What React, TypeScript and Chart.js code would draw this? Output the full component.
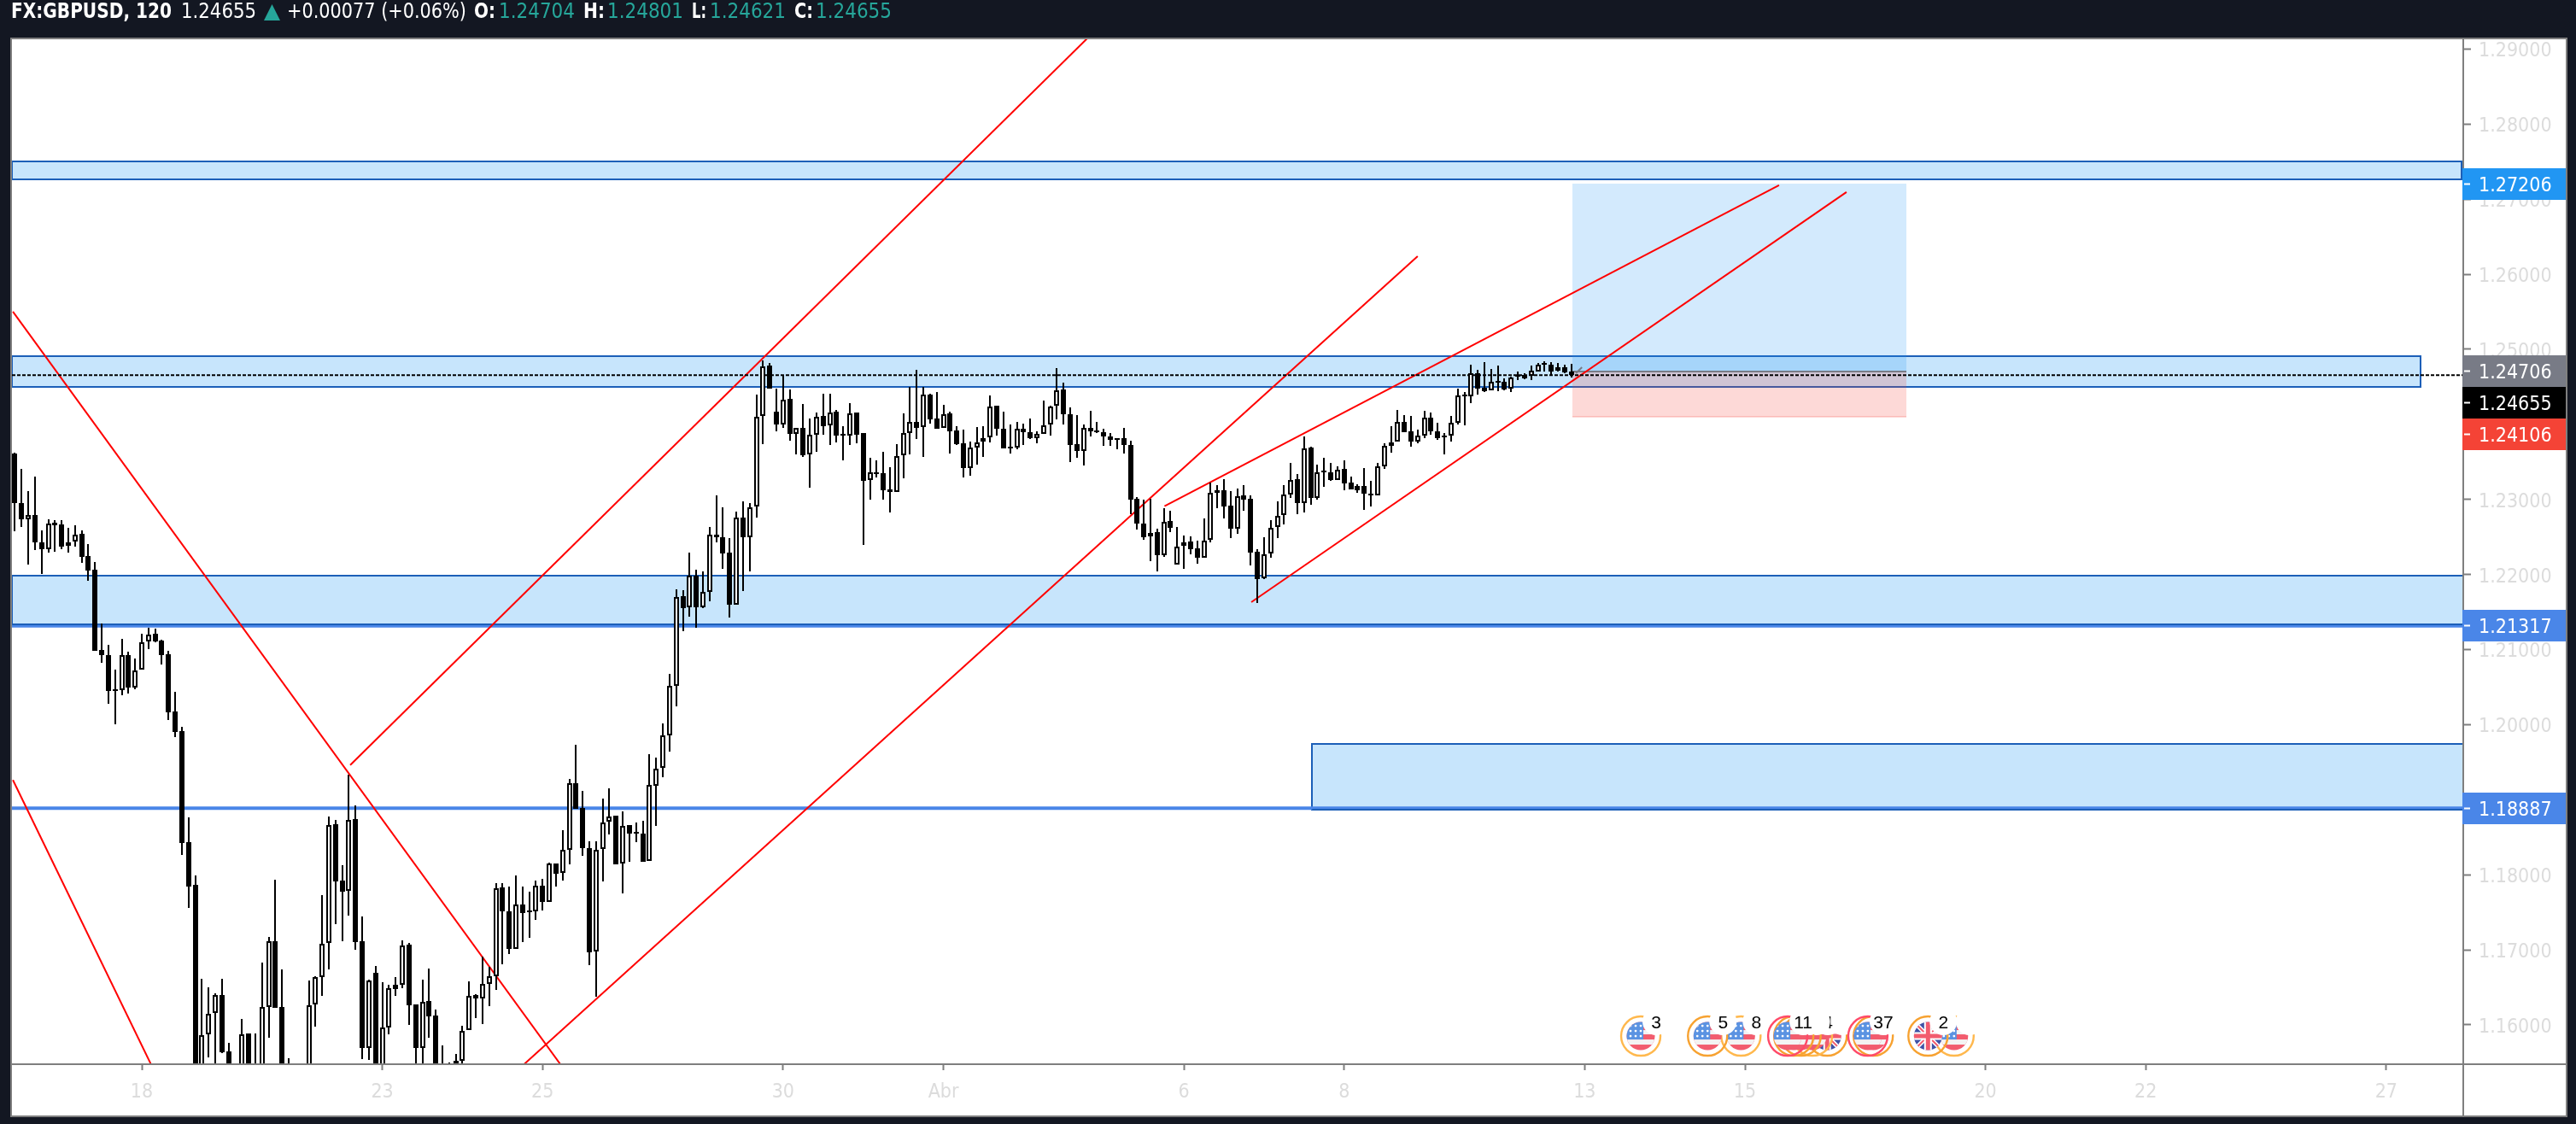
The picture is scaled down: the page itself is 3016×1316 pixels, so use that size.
import React, { useEffect, useRef } from "react";
import { Chart, registerables } from "chart.js";

Chart.register(...registerables);

const firstBar = -19;
const barOpen = [
1.23611,1.22948,1.22733,1.22789,1.22425,1.22341,1.22687,1.22664,1.22383,1.22440,
1.22539,1.22244,1.22062,1.20991,1.20923,1.20457,1.20457,1.20923,1.20498,1.20729,
1.21109,1.21208,1.21116,1.20934,1.20173,1.19914,1.18431,1.17862,1.15316,1.15874,
1.16158,1.16394,1.15643,1.15300,1.15293,1.15885,1.15250,1.15293,1.16233,1.17110,
1.16233,1.15400,1.15300,1.15200,1.15293,1.16271,1.16637,1.17091,1.18670,1.17918,
1.17782,1.18738,1.17110,1.15694,1.16691,1.15293,1.15968,1.16530,1.16530,1.17068,
1.16268,1.15694,1.16314,1.16121,1.15373,1.15430,1.15525,1.15525,1.15928,1.16394,
1.16349,1.16548,1.16645,1.17828,1.17516,1.17015,1.17607,1.17509,1.17509,1.17857,
1.17633,1.18146,1.18021,1.18335,1.19223,1.18890,1.18352,1.16974,1.18340,1.18704,
1.18784,1.18146,1.18659,1.18551,1.18545,1.18180,1.19184,1.19421,1.19854,1.20520,
1.21708,1.21564,1.21988,1.21564,1.21772,1.22535,1.22500,1.22288,1.21601,1.22762,
1.22494,1.22903,1.24109,1.24780,1.24166,1.23995,1.24337,1.23870,1.23950,1.23597,
1.23858,1.24109,1.23984,1.24166,1.23858,1.23847,1.24155,1.23881,1.23255,1.23364,
1.23346,1.23130,1.23099,1.23585,1.23888,1.24036,1.23964,1.24397,1.24075,1.23950,
1.24144,1.23916,1.23745,1.23414,1.23694,1.23768,1.23823,1.24246,1.23938,1.23694,
1.23694,1.23945,1.23893,1.23816,1.23870,1.23998,1.24246,1.24461,1.24131,1.23733,
1.23642,1.23956,1.23910,1.23899,1.23841,1.23808,1.23818,1.23726,1.23005,1.22676,
1.22504,1.22562,1.22262,1.22710,1.22129,1.22379,1.22437,1.22346,1.22227,1.22460,
1.23119,1.23119,1.22914,1.22607,1.23051,1.23005,1.22300,1.21948,1.22277,1.22631,
1.22789,1.23069,1.23266,1.22956,1.23691,1.23023,1.23369,1.23364,1.23262,1.23403,
1.23221,1.23176,1.23176,1.23077,1.23051,1.23437,1.23716,1.23768,1.24036,1.23904,
1.23768,1.23848,1.24093,1.23904,1.23850,1.23850,1.24021,1.24388,1.24370,1.24684,
1.24484,1.24450,1.24571,1.24564,1.24473,1.24644,1.24655,1.24644,1.24707,1.24798,
1.24791,1.24710,1.24764,1.24704,
];
const barClose = [
1.22948,1.22733,1.22789,1.22425,1.22341,1.22682,1.22660,1.22372,1.22432,1.22535,
1.22239,1.22057,1.20987,1.20923,1.20452,1.20449,1.20923,1.20498,1.20725,1.21100,
1.21203,1.21112,1.20930,1.20168,1.19906,1.18426,1.17846,1.15316,1.15866,1.16150,
1.16394,1.15635,1.15293,1.15100,1.15877,1.15259,1.15150,1.16233,1.17110,1.16226,
1.15293,1.15300,1.15200,1.15350,1.16263,1.16637,1.17083,1.18666,1.17914,1.17778,
1.18733,1.17108,1.15694,1.16587,1.15293,1.15968,1.16485,1.16480,1.17060,1.16263,
1.15694,1.16309,1.16113,1.15293,1.15259,1.15320,1.15373,1.15920,1.16390,1.16349,
1.16548,1.16645,1.17823,1.17509,1.17015,1.17607,1.17490,1.17501,1.17857,1.17633,
1.18146,1.18016,1.18335,1.19223,1.18882,1.18352,1.16963,1.18335,1.18699,1.18776,
1.18135,1.18654,1.18551,1.18545,1.18173,1.19193,1.19413,1.19861,1.20515,1.21704,
1.21556,1.21988,1.21567,1.21772,1.22530,1.22500,1.22284,1.21601,1.22762,1.22494,
1.22898,1.24104,1.24775,1.24476,1.23995,1.24332,1.23870,1.23950,1.23585,1.23858,
1.24104,1.23980,1.24161,1.23854,1.23850,1.24150,1.23865,1.23250,1.23364,1.23342,
1.23125,1.23099,1.23581,1.23884,1.24036,1.23956,1.24393,1.24069,1.23945,1.24139,
1.23910,1.23737,1.23414,1.23694,1.23763,1.23816,1.24240,1.23938,1.23676,1.23676,
1.23945,1.23893,1.23818,1.23876,1.23990,1.24240,1.24457,1.24130,1.23728,1.23642,
1.23956,1.23910,1.23899,1.23837,1.23791,1.23797,1.23720,1.23000,1.22676,1.22500,
1.22554,1.22258,1.22705,1.22619,1.22375,1.22429,1.22338,1.22227,1.22455,1.23091,
1.23091,1.22910,1.22607,1.23047,1.23000,1.22296,1.21943,1.22272,1.22626,1.22785,
1.23069,1.23262,1.22956,1.23683,1.23023,1.23364,1.23361,1.23258,1.23395,1.23217,
1.23137,1.23125,1.23081,1.23054,1.23437,1.23712,1.23763,1.24036,1.23899,1.23768,
1.23848,1.24093,1.23904,1.23820,1.23831,1.24026,1.24380,1.24374,1.24684,1.24480,
1.24442,1.24571,1.24559,1.24465,1.24621,1.24636,1.24616,1.24710,1.24791,1.24791,
1.24707,1.24761,1.24695,1.24655,
];
const barHigh = [
1.23623,1.23403,1.23107,1.23301,1.22585,1.22733,1.22725,1.22721,1.22619,1.22653,
1.22585,1.22403,1.22164,1.21348,1.21059,1.20729,1.21139,1.20968,1.20878,1.21208,
1.21290,1.21280,1.21128,1.20980,1.20434,1.19971,1.18761,1.17987,1.16610,1.16496,
1.16417,1.16610,1.15757,1.15400,1.16075,1.15885,1.15885,1.16826,1.17168,1.17930,
1.16735,1.15552,1.15400,1.15450,1.16587,1.16645,1.17725,1.18772,1.18727,1.18124,
1.19330,1.18920,1.17441,1.16598,1.16782,1.16564,1.16530,1.16633,1.17122,1.17087,
1.16268,1.16598,1.16747,1.16207,1.15723,1.15498,1.15609,1.15991,1.16576,1.16405,
1.16914,1.16776,1.17885,1.17885,1.17839,1.17987,1.17839,1.17771,1.17918,1.17942,
1.18158,1.18146,1.18589,1.19280,1.19731,1.19114,1.18442,1.18442,1.19010,1.19148,
1.18791,1.18844,1.18659,1.18693,1.18716,1.19603,1.19557,1.20015,1.20672,1.21802,
1.21791,1.22290,1.22062,1.22038,1.22630,1.23051,1.22892,1.22482,1.22835,1.22971,
1.22948,1.24393,1.24847,1.24814,1.24473,1.24662,1.24462,1.23956,1.24268,1.24075,
1.24155,1.24405,1.24405,1.24189,1.23973,1.24279,1.24155,1.23888,1.23551,1.23517,
1.23631,1.23426,1.23733,1.24147,1.24496,1.24724,1.24496,1.24405,1.24428,1.24257,
1.24166,1.23973,1.23927,1.23768,1.23961,1.23973,1.24380,1.24252,1.24166,1.23995,
1.24030,1.24006,1.24078,1.23910,1.24319,1.24252,1.24748,1.24555,1.24223,1.24123,
1.24002,1.24180,1.24033,1.23938,1.23881,1.23808,1.23950,1.23779,1.23035,1.22994,
1.23005,1.22607,1.22880,1.22846,1.22630,1.22516,1.22505,1.22448,1.22744,1.23224,
1.23190,1.23270,1.23110,1.23140,1.23190,1.23051,1.22334,1.22494,1.22728,1.22971,
1.23190,1.23487,1.23335,1.23835,1.23699,1.23459,1.23560,1.23487,1.23437,1.23517,
1.23305,1.23207,1.23414,1.23249,1.23487,1.23745,1.23973,1.24189,1.24119,1.24115,
1.23933,1.24180,1.24155,1.24017,1.23881,1.24109,1.24476,1.24428,1.24791,1.24724,
1.24829,1.24734,1.24780,1.24609,1.24639,1.24704,1.24678,1.24780,1.24821,1.24843,
1.24832,1.24821,1.24794,1.24801,
];
const barLow = [
1.22580,1.22637,1.22136,1.22330,1.22011,1.22296,1.22307,1.22341,1.22296,1.22375,
1.22156,1.21920,1.20987,1.20828,1.20281,1.20008,1.20395,1.20418,1.20475,1.20729,
1.21004,1.21093,1.20805,1.20065,1.19838,1.18267,1.17560,1.15202,1.15202,1.15567,
1.15316,1.15620,1.15202,1.15000,1.15202,1.15202,1.15100,1.15202,1.15832,1.16226,
1.15202,1.15200,1.15100,1.15100,1.15202,1.15979,1.16390,1.16734,1.17338,1.17118,
1.17460,1.17006,1.15544,1.15536,1.15202,1.15202,1.15877,1.16390,1.16492,1.15999,
1.15293,1.15293,1.15828,1.15202,1.15202,1.15260,1.15293,1.15293,1.15928,1.16094,
1.16009,1.16253,1.16466,1.16810,1.16947,1.17015,1.17108,1.17164,1.17402,1.17527,
1.17633,1.17846,1.17926,1.18142,1.18882,1.18256,1.16791,1.16371,1.17914,1.18540,
1.18135,1.17755,1.18176,1.18434,1.18169,1.18180,1.18654,1.19303,1.19640,1.20247,
1.21249,1.21442,1.21294,1.21556,1.21643,1.22425,1.22080,1.21430,1.21601,1.21783,
1.22045,1.22762,1.23740,1.24476,1.23910,1.23956,1.23786,1.23604,1.23570,1.23160,
1.23634,1.23865,1.23720,1.23763,1.23524,1.23720,1.23752,1.22398,1.23000,1.23296,
1.23000,1.22830,1.23099,1.23285,1.23604,1.23808,1.23570,1.24009,1.23945,1.23950,
1.23615,1.23720,1.23296,1.23319,1.23467,1.23570,1.23763,1.23854,1.23676,1.23615,
1.23671,1.23728,1.23808,1.23752,1.23870,1.23854,1.24069,1.24002,1.23501,1.23554,
1.23456,1.23837,1.23888,1.23712,1.23712,1.23666,1.23615,1.22804,1.22599,1.22466,
1.22182,1.22045,1.22232,1.22562,1.22129,1.22080,1.22272,1.22148,1.22219,1.22432,
1.22884,1.22750,1.22486,1.22546,1.22853,1.22122,1.21624,1.21937,1.22221,1.22486,
1.22671,1.23023,1.22808,1.22824,1.22929,1.23000,1.23168,1.23247,1.23258,1.23120,
1.23137,1.23091,1.22860,1.22910,1.23051,1.23403,1.23627,1.23768,1.23899,1.23700,
1.23745,1.23818,1.23858,1.23797,1.23604,1.23774,1.23995,1.23990,1.24287,1.24400,
1.24428,1.24450,1.24443,1.24457,1.24434,1.24587,1.24598,1.24587,1.24700,1.24707,
1.24655,1.24704,1.24684,1.24621,
];

const xMin = -19.44;
const xMax = 347.53;
const yMin = 1.15476;
const yMax = 1.2913;

const yTickValues = [1.16,1.17,1.18,1.19,1.2,1.21,1.22,1.23,1.24,1.25,1.26,1.27,1.28,1.29];
const xTickBars = [0,36,60,96,120,156,180,216,240,276,300,336];
const xTickLabels = ["18","23","25","30","Abr","6","8","13","15","20","22","27"];

// [barA, priceA, barB, priceB]
const trendLines = [
  [-19.3, 1.25501, 63.2, 1.15409],
  [-19.3, 1.19262, 1.73, 1.15409],
  [31.2, 1.19462, 141.8, 1.29165],
  [56.4, 1.15409, 191.0, 1.26241],
  [153.1, 1.2291, 245.1, 1.27185],
  [166.1, 1.21632, 255.2, 1.27094],
];
const arrowTail = [214.7, 1.24681, 215.6, 1.24761];
const lastPrice = 1.24655;
const thickLevels = [1.21317, 1.18887];

// [barStart, barEnd, priceTop, priceBottom]
const zones = [
  [-19.44, 347.3, 1.27504, 1.27265],
  [-19.44, 341.2, 1.24913, 1.24496],
  [-19.44, 348.5, 1.21982, 1.21336],
  [175.2, 348.5, 1.19745, 1.18867],
];
const thickZoneEdges = [2, 3];
const positionBars = [214.2, 264.1];
const positionPrices = [1.27206, 1.24706, 1.24106];

const priceTags = [
  { value: 1.27206, color: "#2196f3" },
  { value: 1.24706, color: "#787b86" },
  { value: 1.24655, color: "#000000" },
  { value: 1.24106, color: "#f44336" },
  { value: 1.21317, color: "#4a86e8" },
  { value: 1.18887, color: "#4a86e8" },
];

const eventPrice = 1.15851;
const eventItems = [
  { bar: 224.4, ring: "#ffb84d", flag: "us", label: "3" },
  { bar: 239.4, ring: "#ffb84d", flag: "us", label: "8" },
  { bar: 234.4, ring: "#f7a231", flag: "us", label: "5" },
  { bar: 252.3, ring: "#f7a231", flag: "uk", label: "" },
  { bar: 250.1, ring: "#ffb84d", flag: "us", label: "4" },
  { bar: 248.4, ring: "#f7a231", flag: "us", label: "1" },
  { bar: 247.3, ring: "#f7a231", flag: "us", label: "1" },
  { bar: 246.4, ring: "#ff4a68", flag: "us", label: "11" },
  { bar: 259.2, ring: "#f7a231", flag: "us", label: "" },
  { bar: 258.4, ring: "#ff4a68", flag: "us", label: "37" },
  { bar: 271.3, ring: "#ffb84d", flag: "us", label: "" },
  { bar: 267.4, ring: "#f7a231", flag: "uk", label: "2" },
];

const headerParts = [
  { text: "FX:GBPUSD, 120", x: 13, bold: true, color: "#ffffff", fit: 188 },
  { text: "1.24655", x: 212, bold: false, color: "#ffffff", fit: 88 },
  { text: "+0.00077 (+0.06%)", x: 336, bold: false, color: "#ffffff", fit: 210 },
  { text: "O:", x: 555, bold: true, color: "#ffffff", fit: 25 },
  { text: "1.24704", x: 584, bold: false, color: "#26a69a", fit: 89 },
  { text: "H:", x: 683, bold: true, color: "#ffffff", fit: 25 },
  { text: "1.24801", x: 711, bold: false, color: "#26a69a", fit: 89 },
  { text: "L:", x: 810, bold: true, color: "#ffffff", fit: 17 },
  { text: "1.24621", x: 831, bold: false, color: "#26a69a", fit: 89 },
  { text: "C:", x: 930, bold: true, color: "#ffffff", fit: 22 },
  { text: "1.24655", x: 955, bold: false, color: "#26a69a", fit: 89 },
];

const FONT = '"DejaVu Sans Condensed", "DejaVu Sans", sans-serif';
const GRAY = "#7f7f7f";

const pixelSnap = {
  id: "pixelSnap",
  afterDatasetsUpdate(chart: any) {
    chart.data.datasets.forEach((d: any, i: number) => {
      if (d.type !== "bar") return;
      chart.getDatasetMeta(i).data.forEach((el: any) => {
        el.x = Math.round(el.x);
        const top = Math.round(Math.min(el.y, el.base));
        let bottom = Math.round(Math.max(el.y, el.base));
        if (bottom - top < 2) bottom = top + 2;
        el.y = top;
        el.base = bottom;
      });
    });
  },
};

const panel = {
  id: "panel",
  beforeDraw(chart: any) {
    const c = chart.ctx;
    const { top, left } = chart.chartArea;
    c.save();
    c.fillStyle = GRAY;
    c.fillRect(left - 2, top - 2, 3006 - (left - 2), 1308 - (top - 2));
    c.fillStyle = "#ffffff";
    c.fillRect(left, top, 3004 - left, 1306 - top);
    c.restore();
    // header
    c.save();
    c.textBaseline = "middle";
    c.textAlign = "left";
    headerParts.forEach((p) => {
      c.font = `${p.bold ? "bold " : ""}24px ${FONT}`;
      c.fillStyle = p.color;
      c.fillText(p.text, p.x, 15, p.fit);
    });
    c.fillStyle = "#26a69a";
    c.beginPath();
    c.moveTo(309, 24);
    c.lineTo(318.5, 5);
    c.lineTo(328, 24);
    c.closePath();
    c.fill();
    c.restore();
  },
};

const drawings = {
  id: "drawings",
  beforeDatasetsDraw(chart: any) {
    const c = chart.ctx;
    const { x, y } = chart.scales;
    const a = chart.chartArea;
    c.save();
    c.beginPath();
    c.rect(a.left, a.top, a.right - a.left, a.bottom - a.top);
    c.clip();
    zones.forEach(([b0, b1, pTop, pBottom]) => {
      const l = Math.round(x.getPixelForValue(b0));
      const r = Math.round(x.getPixelForValue(b1));
      const t = Math.round(y.getPixelForValue(pTop));
      const b = Math.round(y.getPixelForValue(pBottom));
      c.fillStyle = "rgba(33,150,243,0.25)";
      c.fillRect(l, t, r - l, b - t);
      c.strokeStyle = "#1c5fb8";
      c.lineWidth = 2;
      c.strokeRect(l, t, r - l, b - t);
    });
    const l = Math.round(x.getPixelForValue(positionBars[0]));
    const r = Math.round(x.getPixelForValue(positionBars[1]));
    const t = Math.round(y.getPixelForValue(positionPrices[0]));
    const m = Math.round(y.getPixelForValue(positionPrices[1]));
    const b = Math.round(y.getPixelForValue(positionPrices[2]));
    c.fillStyle = "rgba(33,150,243,0.2)";
    c.fillRect(l, t, r - l, m - t);
    c.fillStyle = "rgba(244,67,54,0.2)";
    c.fillRect(l, m, r - l, b - m);
    c.fillStyle = "rgba(244,67,54,0.2)";
    c.fillRect(l, b - 1, r - l, 2);
    c.fillStyle = "#787b86";
    c.fillRect(l, m - 1, r - l, 2);
    c.restore();
  },
  afterDatasetsDraw(chart: any) {
    const c = chart.ctx;
    const { x, y } = chart.scales;
    const cy = y.getPixelForValue(eventPrice);
    eventItems.forEach((ev) => {
      const cx = x.getPixelForValue(ev.bar);
      c.save();
      c.save();
      c.beginPath();
      c.arc(cx, cy, 16.5, 0, Math.PI * 2);
      c.clip();
      if (ev.flag === "us") {
        c.fillStyle = "#f25c6e";
        c.fillRect(cx - 17, cy - 17, 34, 34);
        c.fillStyle = "#f3f3f3";
        c.fillRect(cx - 17, cy + 4, 34, 6);
        c.fillRect(cx - 17, cy - 7, 34, 5);
        c.fillStyle = "#5b93e2";
        c.fillRect(cx - 17, cy - 17, 20, 21);
        c.fillStyle = "#ffffff";
        for (let i = 0; i < 3; i++) {
          for (let j = 0; j < 3; j++) {
            c.beginPath();
            c.arc(cx - 12 + i * 6, cy - 12 + j * 6, 1.4, 0, Math.PI * 2);
            c.fill();
          }
        }
      } else {
        c.fillStyle = "#3f51a5";
        c.fillRect(cx - 17, cy - 17, 34, 34);
        c.strokeStyle = "#ffffff";
        c.lineWidth = 5;
        c.beginPath();
        c.moveTo(cx - 17, cy - 17);
        c.lineTo(cx + 17, cy + 17);
        c.moveTo(cx + 17, cy - 17);
        c.lineTo(cx - 17, cy + 17);
        c.stroke();
        c.strokeStyle = "#f25c6e";
        c.lineWidth = 2;
        c.stroke();
        c.strokeStyle = "#ffffff";
        c.lineWidth = 9;
        c.beginPath();
        c.moveTo(cx, cy - 17);
        c.lineTo(cx, cy + 17);
        c.moveTo(cx - 17, cy);
        c.lineTo(cx + 17, cy);
        c.stroke();
        c.strokeStyle = "#f25c6e";
        c.lineWidth = 5;
        c.stroke();
      }
      c.restore();
      c.strokeStyle = ev.ring;
      c.lineWidth = 2.4;
      c.beginPath();
      c.arc(cx, cy, 23, 0, Math.PI * 2);
      c.stroke();
      c.fillStyle = "#ffffff";
      c.beginPath();
      c.arc(cx + 18, cy - 17, 16, 0, Math.PI * 2);
      c.fill();
      if (ev.label) {
        c.fillStyle = "#000000";
        c.font = '21px "Liberation Sans", Arial, sans-serif';
        c.textAlign = "center";
        c.textBaseline = "middle";
        c.fillText(ev.label, cx + 18, cy - 15);
      }
      c.restore();
    });
  },
  afterDraw(chart: any) {
    const c = chart.ctx;
    const { y } = chart.scales;
    const a = chart.chartArea;
    c.save();
    c.fillStyle = GRAY;
    c.fillRect(a.right - 1, a.top, 2, 1306 - a.top);
    c.fillRect(a.left, a.bottom - 1, 3004 - a.left, 2);
    let lastBottom = -1e9;
    const tagH = 37;
    priceTags.forEach((t) => {
      let cy = y.getPixelForValue(t.value);
      if (cy - tagH / 2 < lastBottom) cy = lastBottom + tagH / 2;
      const topY = Math.round(cy - tagH / 2);
      lastBottom = topY + tagH;
      c.fillStyle = t.color;
      c.fillRect(a.right - 1, topY, 3004 - a.right + 1, tagH);
      c.fillStyle = "#ffffff";
      c.fillRect(a.right + 1, topY + tagH / 2 - 1, 7, 2);
      c.font = `23px ${FONT}`;
      c.textAlign = "left";
      c.textBaseline = "middle";
      c.fillText(t.value.toFixed(5), 2902, topY + tagH / 2 + 3);
    });
    c.restore();
  },
};

export default function App() {
  const ref = useRef<HTMLCanvasElement | null>(null);
  useEffect(() => {
    if (!ref.current) return;
    const bars = barOpen.map((_, i) => firstBar + i);
    const lineDs = (pts: number[], color: string, width: number, order: number, dash: number[] = []) => ({
      type: "line",
      data: [
        { x: pts[0], y: pts[1] },
        { x: pts[2], y: pts[3] },
      ],
      borderColor: color,
      borderWidth: width,
      borderDash: dash,
      pointRadius: 0,
      fill: false,
      tension: 0,
      order,
    });
    const chart = new Chart(ref.current, {
      type: "bar",
      data: {
        datasets: [
          ...thickLevels.map((v) => lineDs([xMin, v, xMax, v], "#4a86e8", 4, 6)),
          ...thickZoneEdges.map((i) => lineDs([zones[i][0], zones[i][3], zones[i][1], zones[i][3]], "#1c5fb8", 2, 5)),
          ...trendLines.map((l) => lineDs(l, "#ff0000", 2, 4)),
          lineDs(arrowTail, "#787b86", 2, 4),
          lineDs([xMin, lastPrice, xMax, lastPrice], "#000000", 2, 3, [4, 2]),
          {
            type: "bar",
            label: "wick",
            data: bars.map((b, i) => ({ x: b, y: [barLow[i], barHigh[i]] })),
            backgroundColor: "#000000",
            barThickness: 2,
            borderWidth: 0,
            inflateAmount: 0,
            order: 2,
          },
          {
            type: "bar",
            label: "body",
            data: bars.map((b, i) => ({ x: b, y: [Math.min(barOpen[i], barClose[i]), Math.max(barOpen[i], barClose[i])] })),
            backgroundColor: (ctx: any) => (barClose[ctx.dataIndex] > barOpen[ctx.dataIndex] ? "#ffffff" : "#000000"),
            borderColor: "#000000",
            borderWidth: 2,
            borderSkipped: false,
            barThickness: 6,
            minBarLength: 2,
            inflateAmount: 0,
            order: 1,
          },
        ] as any,
      },
      options: {
        animation: false,
        responsive: false,
        devicePixelRatio: 1,
        events: [],
        grouped: false,
        layout: { padding: { left: 14, top: 46, right: 12, bottom: 10 } },
        plugins: { legend: { display: false }, tooltip: { enabled: false }, title: { display: false } },
        scales: {
          x: {
            type: "linear",
            min: xMin,
            max: xMax,
            offset: false,
            grid: { offset: false, drawOnChartArea: false, drawTicks: true, tickLength: 7, tickWidth: 2, tickColor: GRAY },
            border: { display: false },
            afterBuildTicks: (s: any) => {
              s.ticks = xTickBars.map((v) => ({ value: v }));
            },
            afterFit: (s: any) => {
              s.height = 60;
            },
            ticks: {
              autoSkip: false,
              maxRotation: 0,
              minRotation: 0,
              padding: 12,
              color: "#dcdcdc",
              font: { family: FONT, size: 23 },
              callback: (v: any) => xTickLabels[xTickBars.indexOf(Number(v))] ?? "",
            },
          },
          y: {
            type: "linear",
            position: "right",
            min: yMin,
            max: yMax,
            beginAtZero: false,
            grid: { drawOnChartArea: false, drawTicks: true, tickLength: 9, tickWidth: 2, tickColor: GRAY },
            border: { display: false },
            afterBuildTicks: (s: any) => {
              s.ticks = yTickValues.map((v) => ({ value: v }));
            },
            afterFit: (s: any) => {
              s.width = 120;
            },
            ticks: {
              autoSkip: false,
              padding: 9,
              labelOffset: 3,
              color: "#dcdcdc",
              font: { family: FONT, size: 23 },
              callback: (v: any) => Number(v).toFixed(5),
            },
          },
        },
      } as any,
      plugins: [pixelSnap, panel, drawings],
    });
    return () => chart.destroy();
  }, []);
  return (
    <div style={{ position: "fixed", left: 0, top: 0, width: 3016, height: 1316, background: "#131722" }}>
      <canvas ref={ref} width={3016} height={1316} style={{ display: "block", width: 3016, height: 1316 }} />
    </div>
  );
}
